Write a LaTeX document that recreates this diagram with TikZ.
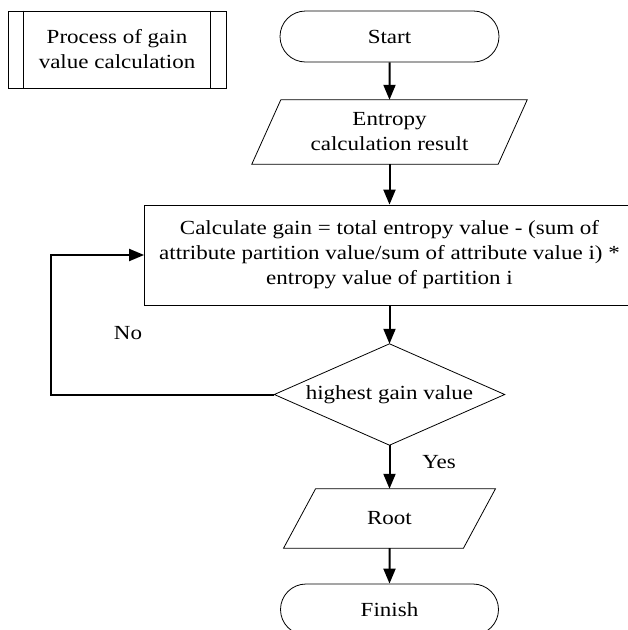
\documentclass[tikz,border=0pt]{standalone}
\usepackage{fontspec}
\setmainfont{Liberation Serif}[FakeStretch=1.15]
\usetikzlibrary{shapes.geometric,shapes.misc,arrows.meta}
\begin{document}
\begin{tikzpicture}[x=1pt,y=-1pt,
  every node/.style={font=\fontsize{20}{25}\selectfont, inner sep=0pt},
  shapebox/.style={draw, line width=0.8pt, align=center},
  termbox/.style={shapebox, rounded rectangle, minimum width=219pt, minimum height=51pt},
  flow/.style={line width=2pt, -{Triangle[length=15pt,width=12pt]}}
]
\useasboundingbox (0,0) rectangle (628,630);
% predefined process
\node[shapebox, minimum width=218pt, minimum height=77pt] (proc) at (117,49.5) {Process of gain\\value calculation};
\draw[line width=0.8pt] ([xshift=16pt]proc.north west) -- ([xshift=16pt]proc.south west);
\draw[line width=0.8pt] ([xshift=-16pt]proc.north east) -- ([xshift=-16pt]proc.south east);
% start
\node[termbox] (start) at (389.5,36.5) {Start};
% entropy parallelogram
\node[align=center, minimum width=246pt, minimum height=64pt] (ent) at (389.5,132) {Entropy\\calculation result};
\draw[line width=0.8pt] ([xshift=14.5pt]ent.north west) -- ([xshift=14.5pt]ent.north east)
  -- ([xshift=-14.5pt]ent.south east) -- ([xshift=-14.5pt]ent.south west) -- cycle;
% calculate box
\node[shapebox, minimum width=490pt, minimum height=100pt] (calc) at (389.5,255)
  {Calculate gain = total entropy value - (sum of\\attribute partition value/sum of attribute value i) *\\entropy value of partition i};
% decision
\node[minimum width=230pt, minimum height=101pt] (dec) at (389.5,394.5) {highest gain value};
\draw[line width=0.8pt] (dec.north) -- (dec.east) -- (dec.south) -- (dec.west) -- cycle;
% root parallelogram
\node[minimum width=179.5pt, minimum height=59pt] (root) at (389.5,518.5) {Root};
\draw[line width=0.8pt] ([xshift=16pt]root.north west) -- ([xshift=16pt]root.north east)
  -- ([xshift=-16pt]root.south east) -- ([xshift=-16pt]root.south west) -- cycle;
% finish
\node[termbox, minimum width=218pt] (fin) at (389.5,609.5) {Finish};
% connectors
\draw[flow] (start) -- (ent.north);
\draw[flow] (ent.south) -- (calc);
\draw[flow] (calc) -- (dec.north);
\draw[flow] (dec.south) -- (root.north);
\draw[flow] (root.south) -- (fin);
\coordinate (fbl) at (51,394.5);
\coordinate (fbu) at (51,255);
\draw[flow] (dec.west) -- (fbl) -- (fbu) -- (calc.west);
% labels
\node (no) at (128,333) {No};
\node (yes) at (439,462) {Yes};
\end{tikzpicture}
\end{document}
